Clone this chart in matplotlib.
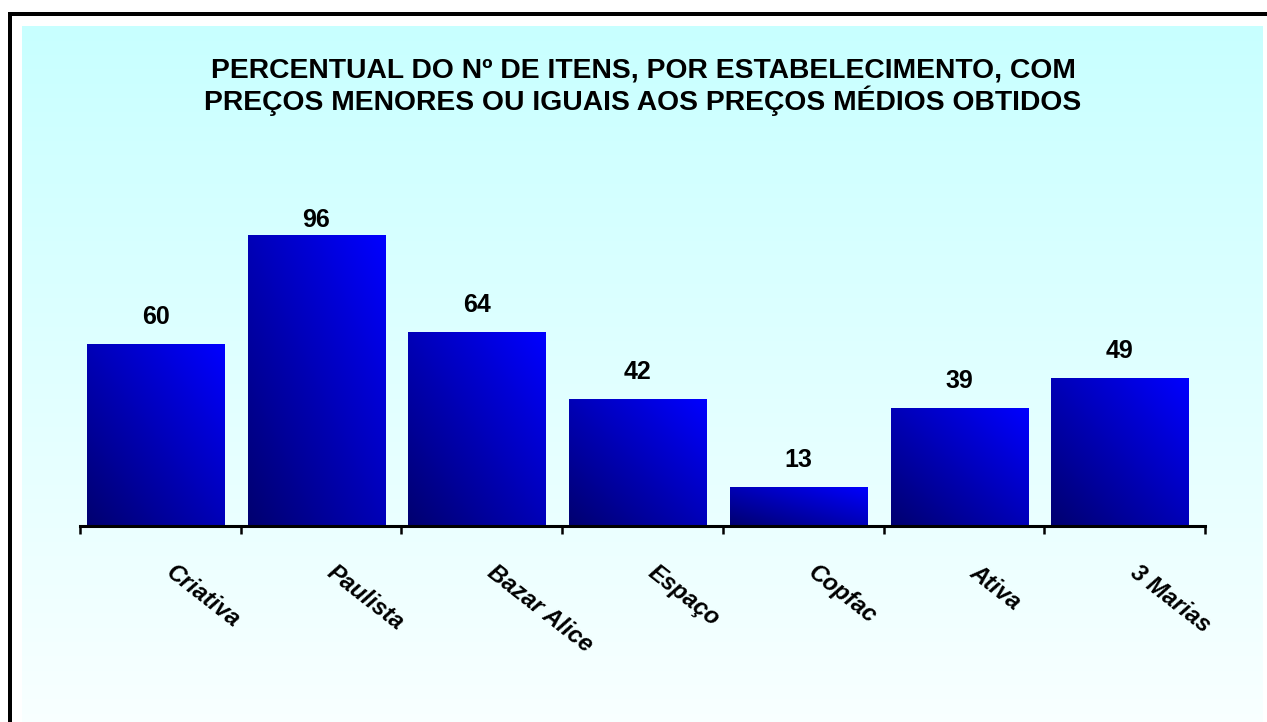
import numpy as np
import matplotlib
matplotlib.use('Agg')
import matplotlib.pyplot as plt
from matplotlib.lines import Line2D
from matplotlib.colors import LinearSegmentedColormap

lojas = ['Criativa', 'Paulista', 'Bazar Alice', 'Espaço', 'Copfac', 'Ativa', '3 Marias']
percentual = [60, 96, 64, 42, 13, 39, 49]
titulo = 'PERCENTUAL DO Nº DE ITENS, POR ESTABELECIMENTO, COM\nPREÇOS MENORES OU IGUAIS AOS PREÇOS MÉDIOS OBTIDOS'

W, H = 1267, 722
plt.rcParams['font.family'] = ['Liberation Sans', 'DejaVu Sans']

fig = plt.figure(figsize=(W / 100, H / 100), dpi=100)
fig.patch.set_facecolor('white')

# fundo em degradê (ciano -> branco)
bg = fig.add_axes([22 / W, -0.05, (1263 - 22) / W, 0.05 + (H - 26) / H], zorder=-5)
fundo = LinearSegmentedColormap.from_list('fundo', ['#fbffff', '#c8ffff'])
bg.imshow(np.linspace(0, 1, 256).reshape(-1, 1), aspect='auto', cmap=fundo,
          origin='lower', extent=[0, 1, 0, 1])
bg.set_axis_off()

# moldura preta (só topo e esquerda aparecem)
fig.add_artist(Line2D([10 / W, 10 / W], [-0.1, 1 - 14 / H], color='black', lw=4 * 0.72,
                      solid_capstyle='projecting'))
fig.add_artist(Line2D([10 / W, 1.1], [1 - 14 / H, 1 - 14 / H], color='black', lw=4 * 0.72,
                      solid_capstyle='projecting'))

fig.text(643 / W, 1 - 87 / H, titulo, ha='center', va='center', fontsize=20.3,
         fontweight='bold', linespacing=1.1)

ax = fig.add_axes([80 / W, (H - 526) / H, (1205 - 80) / W, 303 / H])
ax.set_facecolor('none')
x = np.arange(len(lojas))
barras = ax.bar(x - 0.03, percentual, width=0.853, color='none', edgecolor='none')

azul = LinearSegmentedColormap.from_list('azul', ['#000070', '#0000ff'])
gx, gy = np.meshgrid(np.linspace(0, 1, 64), np.linspace(0, 1, 64))
grad = (gx * 0.5 + gy * 0.5)
for b in barras:
    x0, y0 = b.get_x(), b.get_y()
    im = ax.imshow(grad, cmap=azul, origin='lower', aspect='auto', interpolation='bilinear',
                   extent=[x0, x0 + b.get_width(), y0, y0 + b.get_height()], zorder=2)
    im.set_clip_path(b)

# rótulos de valor (limitados ao topo da área do gráfico, como no Excel)
for b, v in zip(barras, percentual):
    ax.text(b.get_x() + b.get_width() / 2, min(v + 8.9, 101), str(v),
            ha='center', va='center', fontsize=18, fontweight='bold')

ax.set_xlim(-0.5, len(lojas) - 0.5)
ax.set_ylim(0, 100)
for s in ['top', 'right', 'left']:
    ax.spines[s].set_visible(False)
ax.spines['bottom'].set_linewidth(2.2)
ax.set_yticks([])
ax.set_xticks(np.arange(len(lojas) + 1) - 0.5)
ax.set_xticklabels([])
ax.tick_params(axis='x', direction='out', length=6, width=1.8)

for xi, nome in zip(x, lojas):
    ax.annotate(nome, (xi, 0), xytext=(11, -25), textcoords='offset points',
                ha='left', va='top', rotation=-38, rotation_mode='anchor',
                fontsize=17, fontweight='bold', fontstyle='italic', annotation_clip=False)

fig.savefig('out.png', dpi=100)
